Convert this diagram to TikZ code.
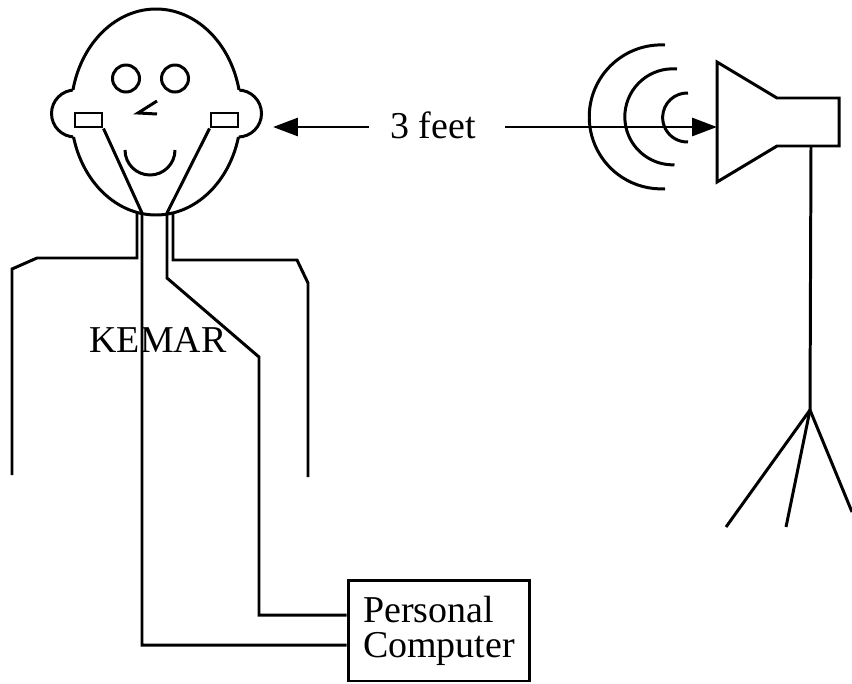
\documentclass[tikz,border=0pt]{standalone}
\usepackage{fontspec}
\setmainfont{Liberation Serif}
\usetikzlibrary{arrows.meta}
\begin{document}
\begin{tikzpicture}[x=0.02cm, y=-0.02cm, line width=1.7pt,
  lbl/.style={font=\fontsize{21.6}{19.9}\selectfont, inner sep=0pt},
  mic/.style={draw, fill=white, inner sep=0pt, minimum width=0.54cm, minimum height=0.28cm},
  arr/.style={-{Triangle[length=0.5cm,width=0.36cm]}}]
\useasboundingbox (0,0) rectangle (852,683);

% ears
\draw[fill=white] (75,113.5) circle[radius=23.5];
\draw[fill=white] (238,113.5) circle[radius=23.5];

% head outline, hidden where the ears join it
\fill[white] (156,112) circle[x radius=85, y radius=103];
\begin{scope}[even odd rule]
  \clip (-10,-10) rectangle (862,693)
    (75,113.5) circle[radius=23.5] (238,113.5) circle[radius=23.5];
  \draw (156,112) circle[x radius=85, y radius=103];
\end{scope}

% face
\draw (126,78.5) circle[radius=13.5];
\draw (175,78.5) circle[radius=13.5];
\draw (157,101) -- (138,113) -- (157,114);
\draw (125,150) arc[start angle=180, end angle=0, radius=25];

% ear microphones
\node[mic] (micL) at (88.5,120) {};
\node[mic] (micR) at (224.5,120) {};

% torso
\draw (137,213) -- (137,258) -- (37,258) -- (12,269) -- (12,475);
\draw (173,213) -- (173,260) -- (297,260) -- (308,283) -- (308,477);
\node[lbl] (kemar) at (158,340) {KEMAR};

% computer
\node[draw, lbl, minimum width=3.64cm, minimum height=2.02cm, align=left]
  (pc) at (439,630.5) {Personal\\Computer};

% microphone cables
\coordinate (lowL) at (142,645);
\coordinate (lowR) at (259,615);
\draw (micL.south east) -- (142,213) -- (lowL) -- (lowL -| pc.west);
\draw (micR.south west) -- (167,213) -- (167,278) -- (259,357) -- (lowR) -- (lowR -| pc.west);

% distance marker
\coordinate (tipL) at (273,127);
\coordinate (spk) at (717,127);
\node[lbl] (feet) at (433,125) {3 feet};
\draw[arr] ([xshift=-0.4cm]feet.west |- tipL) -- (tipL);
\draw[arr] ([xshift=0.56cm]feet.east |- spk) -- (spk);

% sound waves
\draw (665,45) arc[start angle=-87, end angle=-273, radius=72];
\draw (677,69) arc[start angle=-85, end angle=-272, radius=48];
\draw (688,93) arc[start angle=-88, end angle=-272, radius=24.5];

% loudspeaker
\draw (717,62) -- (777,98) -- (839,98) -- (839,146) -- (777,146) -- (717,182) -- cycle;

% stand
\coordinate (hub) at (810,410);
\draw (811,146) -- (hub);
\draw (hub) -- (726,527);
\draw (hub) -- (786,527);
\draw (hub) -- (852,512);
\end{tikzpicture}
\end{document}
